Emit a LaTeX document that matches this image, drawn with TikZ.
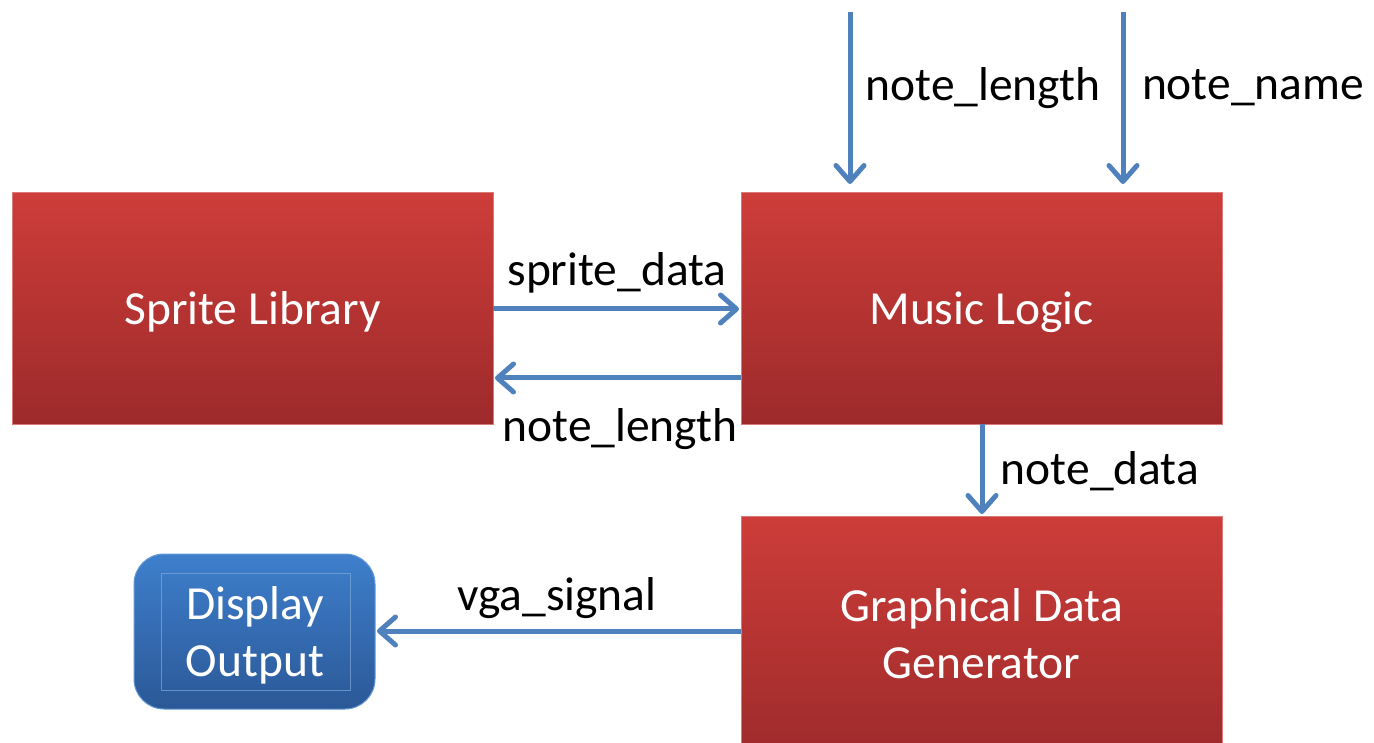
\documentclass[tikz,border=0pt]{standalone}
\usepackage{fontspec}
\setmainfont{Carlito}
\usetikzlibrary{arrows.meta}
\definecolor{redtop}{HTML}{CD3D39}
\definecolor{redbot}{HTML}{9D2A2B}
\definecolor{redline}{HTML}{D97A78}
\definecolor{bluetop}{HTML}{3E7FCC}
\definecolor{bluebot}{HTML}{2B5897}
\definecolor{wire}{HTML}{4F81BD}
\tikzset{
  redbox/.style={draw=redline, line width=1pt, top color=redtop, bottom color=redbot},
  boxtext/.style={text=white, font=\fontsize{47.5}{57}\selectfont, align=center},
  bluebox/.style={draw=bluetop!80!white, line width=1pt, rounded corners=30pt, top color=bluetop, bottom color=bluebot},
  lbl/.style={font=\fontsize{47.5}{57}\selectfont, text=black},
  wirearrow/.style={draw=wire, line width=5pt, -{Straight Barb[length=16pt,width=28pt,line width=5pt,round]}, line cap=butt}
}
\begin{document}
\begin{tikzpicture}[x=1pt,y=-1pt]
\useasboundingbox (0,0) rectangle (1374,743);
% boxes
\path[redbox] (12,193) rectangle (493,424);
\node[boxtext] (sprite) at (252.5,312) {Sprite Library};
\path[redbox] (741,193) rectangle (1222,424);
\node[boxtext] (music) at (981.5,312) {Music Logic};
\path[redbox] (741,516) rectangle (1222,760);
\node[boxtext] (gdg) at (981.5,634) {Graphical Data\\Generator};
\path[bluebox] (134,554) rectangle (375,709);
\draw[bluetop!60!white, line width=0.8pt, opacity=0.6] (161,573) rectangle (350,690);
\node[boxtext] (disp) at (255,635) {Display\\Output};
% anchors
\coordinate (sR1) at (493,309);
\coordinate (mL1) at (739,309);
\coordinate (mL2) at (741,378);
\coordinate (sR2) at (495,378);
\coordinate (t1) at (850,12);
\coordinate (m1) at (850,184);
\coordinate (t2) at (1123,12);
\coordinate (m2) at (1123,184);
\coordinate (mB) at (982,424);
\coordinate (gT) at (982,514);
\coordinate (gL) at (741,631);
\coordinate (dR) at (377,631);
% arrows
\draw[wirearrow] (sR1) -- (mL1);
\draw[wirearrow] (mL2) -- (sR2);
\draw[wirearrow] (t1) -- (m1);
\draw[wirearrow] (t2) -- (m2);
\draw[wirearrow] (mB) -- (gT);
\draw[wirearrow] (gL) -- (dR);
% labels
\node[lbl] (l1) at (617,273) {sprite\_data};
\node[lbl] (l2) at (620,429) {note\_length};
\node[lbl] (l3) at (983,88) {note\_length};
\node[lbl] (l4) at (1253,88) {note\_name};
\node[lbl] (l5) at (1100,471) {note\_data};
\node[lbl] (l6) at (557,598) {vga\_signal};
\end{tikzpicture}
\end{document}
